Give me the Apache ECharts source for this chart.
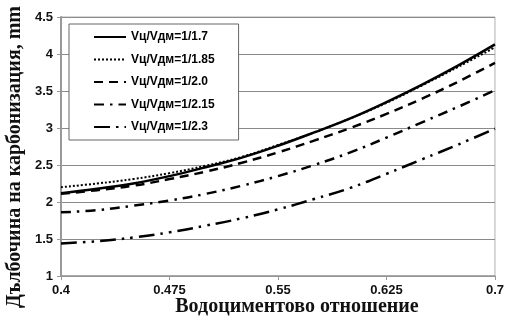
<!DOCTYPE html>
<html>
<head>
<meta charset="utf-8">
<script src="https://cdn.jsdelivr.net/npm/echarts@6/dist/echarts.min.js"></script>
<style>
  html, body { margin: 0; padding: 0; background: #fff; }
  #chart { width: 507px; height: 322px; }
</style>
</head>
<body>
<div id="chart"></div>
<script>
// Water-to-cement ratio, sampled every 0.025
const ratios = ['0.4', '0.425', '0.45', '0.475', '0.5', '0.525', '0.55',
                '0.575', '0.6', '0.625', '0.65', '0.675', '0.7'];

// Carbonation depth, mm, for each Vц/Vдм proportion
const depth_1_17  = [2.12, 2.18, 2.25, 2.35, 2.47, 2.60, 2.76, 2.94, 3.13, 3.35, 3.59, 3.85, 4.13];
const depth_1_185 = [2.20, 2.25, 2.31, 2.39, 2.49, 2.61, 2.77, 2.94, 3.13, 3.34, 3.58, 3.83, 4.09];
const depth_1_20  = [2.11, 2.16, 2.22, 2.31, 2.41, 2.53, 2.67, 2.83, 3.00, 3.19, 3.40, 3.63, 3.88];
const depth_1_215 = [1.86, 1.89, 1.95, 2.02, 2.11, 2.22, 2.35, 2.50, 2.67, 2.87, 3.08, 3.29, 3.51];
const depth_1_23  = [1.44, 1.47, 1.52, 1.59, 1.68, 1.78, 1.90, 2.04, 2.19, 2.38, 2.58, 2.78, 2.99];

const seriesNames = ['Vц/Vдм=1/1.7', 'Vц/Vдм=1/1.85', 'Vц/Vдм=1/2.0',
                     'Vц/Vдм=1/2.15', 'Vц/Vдм=1/2.3'];

const yTitle = 'Дълбочина на карбонизация, mm';
const xTitle = 'Водоциментово отношение';

const yMin = 1, yMax = 4.5, yStep = 0.5;

const lineKinds = [
  { width: 2.5, type: 'solid' },
  { width: 2, type: [2, 2] },
  { width: 2.5, type: [9, 6] },
  { width: 2.5, type: [10, 6, 2.5, 6] },
  { width: 2.5, type: [16, 6, 2.5, 6, 2.5, 6] }
];

const datasets = [depth_1_17, depth_1_185, depth_1_20, depth_1_215, depth_1_23];

const titleFontCss = 'bold 20px "Liberation Serif", "Times New Roman", serif';

const chart = echarts.init(document.getElementById('chart'), null, { renderer: 'canvas' });

chart.setOption({
  animation: false,
  backgroundColor: '#ffffff',
  grid: {
    left: 61, right: 10, top: 17, bottom: 46,
    show: true, borderColor: '#b0b0b0', borderWidth: 1
  },
  legend: {
    orient: 'vertical',
    left: 69, top: 24,
    padding: [7, 24, 7, 24],
    itemWidth: 32, itemHeight: 14, itemGap: 10.5,
    borderColor: '#666', borderWidth: 1,
    backgroundColor: '#fff',
    itemStyle: { opacity: 0 },
    textStyle: { fontFamily: 'Liberation Sans, Arial', fontWeight: 'bold', fontSize: 12, color: '#000' },
    data: seriesNames
  },
  graphic: [{
    type: 'text',
    x: 15, y: 157,
    rotation: Math.PI / 2,
    style: { text: yTitle, align: 'center', verticalAlign: 'middle', fill: '#111', font: titleFontCss }
  }, {
    type: 'text',
    x: 297, y: 307,
    style: { text: xTitle, align: 'center', verticalAlign: 'middle', fill: '#111', font: titleFontCss }
  }],
  xAxis: {
    type: 'category',
    data: ratios,
    boundaryGap: false,
    axisLine: { lineStyle: { color: '#999', width: 1.5 } },
    axisTick: { interval: 2, length: 4, lineStyle: { color: '#999' } },
    axisLabel: { interval: 2, margin: 8, fontFamily: 'Liberation Sans, Arial', fontWeight: 'bold', fontSize: 13, color: '#111' },
    splitLine: { show: false }
  },
  yAxis: {
    type: 'value',
    min: yMin, max: yMax, interval: yStep,
    axisLine: { show: true, lineStyle: { color: '#999', width: 2 } },
    axisTick: { show: true, length: 4, lineStyle: { color: '#999' } },
    axisLabel: { margin: 8, fontFamily: 'Liberation Sans, Arial', fontWeight: 'bold', fontSize: 13, color: '#111' },
    splitLine: { lineStyle: { color: '#8a8a8a', width: 1 } }
  },
  series: seriesNames.map((name, i) => ({
    name: name,
    type: 'line',
    data: datasets[i],
    symbol: 'none',
    smooth: 0.4,
    lineStyle: { color: '#000', width: lineKinds[i].width, type: lineKinds[i].type },
    itemStyle: { color: '#000' },
    z: 5 - i
  }))
});
</script>
</body>
</html>
